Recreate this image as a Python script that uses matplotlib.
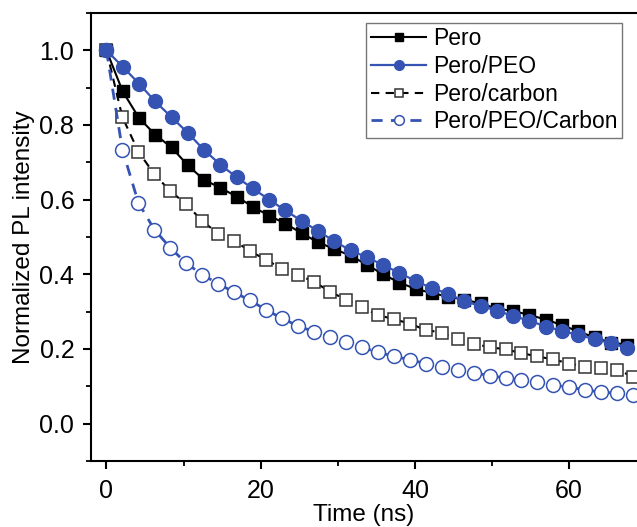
import matplotlib
matplotlib.use("Agg")
import matplotlib.pyplot as plt
from matplotlib.ticker import MultipleLocator

# time axes (ns); the two filled series sit on a slightly wider grid
time_a = [0, 2.07, 4.14, 6.21, 8.28, 10.35, 12.42, 14.49, 16.56, 18.63, 20.70, 22.77,
          24.84, 26.91, 28.98, 31.05, 33.12, 35.19, 37.26, 39.33, 41.40, 43.47, 45.54,
          47.61, 49.68, 51.75, 53.82, 55.89, 57.96, 60.03, 62.10, 64.17, 66.24, 68.31]
time_b = [0, 2.11, 4.22, 6.33, 8.44, 10.55, 12.66, 14.77, 16.88, 18.99, 21.10, 23.21,
          25.32, 27.43, 29.54, 31.65, 33.76, 35.87, 37.98, 40.09, 42.20, 44.31, 46.42,
          48.53, 50.64, 52.75, 54.86, 56.97, 59.08, 61.19, 63.30, 65.41, 67.52]

pero = [1.0, 0.890, 0.819, 0.774, 0.740, 0.692, 0.653, 0.632, 0.608, 0.581, 0.557, 0.536,
        0.510, 0.486, 0.468, 0.450, 0.426, 0.400, 0.378, 0.361, 0.350, 0.340, 0.332,
        0.322, 0.308, 0.302, 0.291, 0.279, 0.264, 0.247, 0.231, 0.217, 0.212]
pero_peo = [1.0, 0.956, 0.911, 0.863, 0.821, 0.779, 0.733, 0.694, 0.660, 0.630, 0.600,
            0.571, 0.543, 0.516, 0.489, 0.464, 0.446, 0.425, 0.404, 0.382, 0.363, 0.348,
            0.328, 0.315, 0.303, 0.288, 0.276, 0.260, 0.249, 0.237, 0.227, 0.215, 0.203]
pero_carbon = [1.0, 0.821, 0.729, 0.668, 0.623, 0.588, 0.543, 0.509, 0.490, 0.462, 0.439,
               0.415, 0.399, 0.380, 0.354, 0.332, 0.312, 0.291, 0.280, 0.268, 0.251,
               0.244, 0.226, 0.214, 0.205, 0.199, 0.189, 0.180, 0.172, 0.161, 0.153,
               0.150, 0.144, 0.126]
pero_peo_carbon = [1.0, 0.734, 0.592, 0.520, 0.471, 0.430, 0.399, 0.375, 0.352, 0.330,
                   0.305, 0.282, 0.262, 0.246, 0.232, 0.219, 0.205, 0.191, 0.181, 0.171,
                   0.161, 0.151, 0.143, 0.136, 0.129, 0.122, 0.117, 0.111, 0.103, 0.098,
                   0.090, 0.085, 0.081, 0.078]

labels = ["Pero", "Pero/PEO", "Pero/carbon", "Pero/PEO/Carbon"]
blue = "#3553b3"

plt.rcParams["font.family"] = ["Liberation Sans", "DejaVu Sans"]

fig = plt.figure(figsize=(6.37, 5.27), dpi=100)
ax = fig.add_axes([91 / 637, 66 / 527, 546 / 637, 448 / 527])

ax.plot(time_b, pero, color="black", lw=1.5, marker="s", ms=9,
        mfc="black", mec="black", label=labels[0], zorder=3)
ax.plot(time_b, pero_peo, color=blue, lw=1.6, marker="o", ms=10,
        mfc=blue, mec=blue, label=labels[1], zorder=4)
ax.plot(time_a, pero_carbon, color="black", lw=1.5, ls=(0, (4, 3)), marker="s", ms=9,
        mfc="white", mec="#333333", mew=1.1, label=labels[2], zorder=3)
ax.plot(time_a, pero_peo_carbon, color=blue, lw=2.0, ls=(0, (4, 3)), marker="o", ms=10,
        mfc="white", mec=blue, mew=1.1, label=labels[3], zorder=3)

ax.set_xlim(-2, 68.8)
ax.set_ylim(-0.1, 1.1)
ax.xaxis.set_major_locator(MultipleLocator(20))
ax.xaxis.set_minor_locator(MultipleLocator(10))
ax.yaxis.set_major_locator(MultipleLocator(0.2))
ax.yaxis.set_minor_locator(MultipleLocator(0.1))
ax.yaxis.set_major_formatter(matplotlib.ticker.FormatStrFormatter("%.1f"))

ax.spines["right"].set_visible(False)
for s in ["left", "bottom", "top"]:
    ax.spines[s].set_linewidth(1.5)
ax.tick_params(which="major", direction="out", length=6, width=1.5, labelsize=18)
ax.tick_params(axis="x", which="major", pad=7)
ax.tick_params(axis="y", which="major", pad=6)
ax.tick_params(which="minor", direction="out", length=3.5, width=1.3)
ax.tick_params(top=False, right=False, which="both")

ax.set_xlabel("Time (ns)", fontsize=17.5, labelpad=1)
ax.set_ylabel("Normalized PL intensity", fontsize=17.5, labelpad=3)

leg = ax.legend(loc="upper right", bbox_to_anchor=(0.9725, 0.978), borderaxespad=0,
                fontsize=16.5, handlelength=2.4, handletextpad=0.3, labelspacing=0.2,
                borderpad=0.2, fancybox=False, framealpha=1, markerscale=0.7)
leg.get_frame().set_edgecolor("#777777")
leg.get_frame().set_linewidth(1.0)

fig.savefig("out.png", dpi=100)
